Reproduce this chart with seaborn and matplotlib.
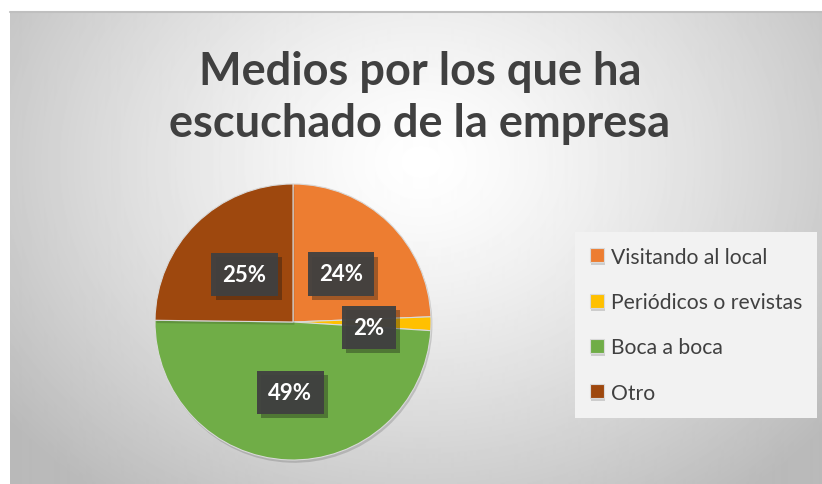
import numpy as np
import matplotlib.pyplot as plt
import matplotlib.patheffects as pe
import seaborn as sns

sns.set_theme(style="white")
plt.rcParams['font.family'] = ['Lato', 'DejaVu Sans']

# data
categories = ["Visitando al local", "Periódicos o revistas", "Boca a boca", "Otro"]
shares = [24.4, 1.6, 49.2, 24.8]
colors = ["#ED7D31", "#FFC000", "#70AD47", "#9E480E"]
title = "Medios por los que ha\nescuchado de la empresa"

W, H = 822, 485
fig = plt.figure(figsize=(W / 100, H / 100), dpi=100)
fig.patch.set_facecolor("white")

# chart area with radial gradient background
bg = fig.add_axes([10 / W, 0, (W - 10) / W, (H - 13) / H])
yy, xx = np.mgrid[0:472, 0:812]
r = np.sqrt(((xx - 410) / 520.0) ** 2 + ((yy - 150) / 420.0) ** 2)
shade = 1 - 0.27 * np.clip(r, 0, 1) ** 1.3
bg.imshow(shade, cmap="gray", vmin=0, vmax=1, aspect="auto", interpolation="bilinear")
bg.set_axis_off()
fig.add_artist(plt.Line2D([10 / W, 1], [(H - 13) / H, (H - 13) / H], color="#bfbfbf", lw=1.5))

fig.text(420 / W, 1 - 98 / H, title, ha="center", va="center", fontsize=32.5,
         fontweight="bold", color="#404040", linespacing=1.3)

# pie
ax = fig.add_axes([155 / W, 24 / H, 276 / W, 276 / H])
ax.set_facecolor("none")
wedges, texts, autotexts = ax.pie(
    shares, colors=colors, startangle=90, counterclock=False,
    autopct="%1.0f%%", pctdistance=0.5, radius=1,
    wedgeprops=dict(linewidth=0.8, edgecolor="#d9d9d9"),
)
for w in wedges:
    w.set_path_effects([pe.SimplePatchShadow(offset=(1, -2), shadow_rgbFace="#000000", alpha=0.15), pe.Normal()])
for t in autotexts:
    t.set_color("white")
    t.set_fontsize(16)
    t.set_fontweight("bold")
    t.set_bbox(dict(boxstyle="square,pad=0.5", facecolor="#404040", edgecolor="none", alpha=0.95))
    t.get_bbox_patch().set_path_effects([pe.SimplePatchShadow(offset=(3, -3), alpha=0.35), pe.Normal()])
    x, y = t.get_position()
    t.set_position((x, y - 0.012))
x, y = autotexts[1].get_position()
autotexts[1].set_position((x + 0.05, y - 0.02))
ax.set_xlim(-1, 1)
ax.set_ylim(-1, 1)
ax.set_aspect("equal")
ax.set_axis_off()

leg = fig.legend(wedges, categories, loc="upper left", bbox_to_anchor=(575 / W, 1 - 233 / H),
                 frameon=True, fancybox=False, fontsize=15.2, handlelength=0.65, handleheight=0.65,
                 handletextpad=0.35, labelspacing=1.2, borderpad=0.7, borderaxespad=0,
                 labelcolor="#404040")
leg.get_frame().set_facecolor("#f2f2f2")
leg.get_frame().set_edgecolor("none")
leg.get_frame().set_alpha(1)

fig.savefig("out.png", dpi=100)
